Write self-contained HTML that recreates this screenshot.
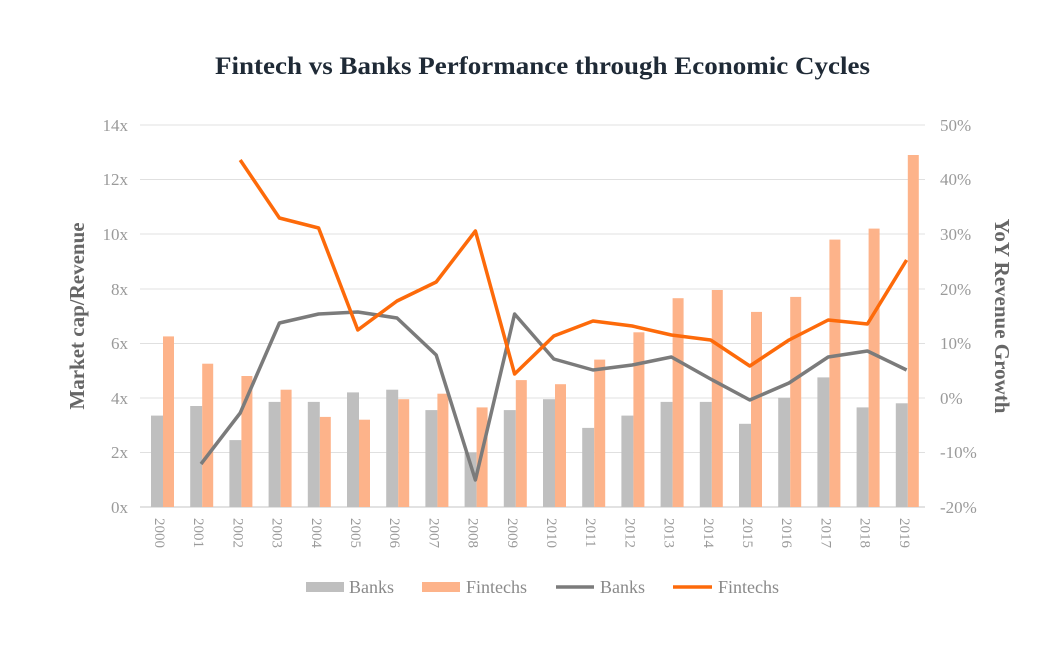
<!DOCTYPE html>
<html><head><meta charset="utf-8"><style>body{margin:0;background:#fff}svg{display:block}</style></head><body>
<svg width="1058" height="666" xmlns="http://www.w3.org/2000/svg" font-family="Liberation Serif, serif">
<rect width="1058" height="666" fill="#fff"/>
<text x="215" y="74" textLength="655" lengthAdjust="spacingAndGlyphs" font-size="25" font-weight="bold" fill="#1f2a36">Fintech vs Banks Performance through Economic Cycles</text>
<g stroke="#e0e0e0" stroke-width="1">
<line x1="140" x2="925" y1="125" y2="125"/><line x1="140" x2="925" y1="179.5" y2="179.5"/><line x1="140" x2="925" y1="234" y2="234"/><line x1="140" x2="925" y1="289" y2="289"/><line x1="140" x2="925" y1="343.5" y2="343.5"/><line x1="140" x2="925" y1="398" y2="398"/><line x1="140" x2="925" y1="452.5" y2="452.5"/>
</g>
<line x1="140" x2="925" y1="507" y2="507" stroke="#d9d9d9" stroke-width="1.5"/>
<g font-size="17" fill="#9a9a9a" text-anchor="end">
<text x="128" y="131">14x</text><text x="128" y="185">12x</text><text x="128" y="240">10x</text><text x="128" y="295">8x</text><text x="128" y="349">6x</text><text x="128" y="404">4x</text><text x="128" y="458">2x</text><text x="128" y="513">0x</text>
</g>
<g font-size="17" fill="#9a9a9a" text-anchor="start">
<text x="940" y="131">50%</text><text x="940" y="185">40%</text><text x="940" y="240">30%</text><text x="940" y="295">20%</text><text x="940" y="349">10%</text><text x="940" y="404">0%</text><text x="940" y="458">-10%</text><text x="940" y="513">-20%</text>
</g>
<text transform="translate(84,316) rotate(-90)" text-anchor="middle" font-size="21" font-weight="bold" fill="#666">Market cap/Revenue</text>
<text transform="translate(995,316) rotate(90)" text-anchor="middle" font-size="21" font-weight="bold" fill="#666">YoY Revenue Growth</text>
<g fill="#bfbfbf">
<rect x="151" y="415.6" width="12" height="91.4"/><rect x="190.2" y="406" width="12" height="101"/><rect x="229.4" y="440.1" width="12" height="66.9"/><rect x="268.6" y="401.9" width="12" height="105.1"/><rect x="307.8" y="401.9" width="12" height="105.1"/><rect x="347" y="392.4" width="12" height="114.6"/><rect x="386.2" y="389.7" width="12" height="117.3"/><rect x="425.4" y="410.1" width="12" height="96.9"/><rect x="464.6" y="452.4" width="12" height="54.6"/><rect x="503.8" y="410.1" width="12" height="96.9"/><rect x="543" y="399.2" width="12" height="107.8"/><rect x="582.2" y="427.9" width="12" height="79.1"/><rect x="621.4" y="415.6" width="12" height="91.4"/><rect x="660.6" y="401.9" width="12" height="105.1"/><rect x="699.8" y="401.9" width="12" height="105.1"/><rect x="739" y="423.8" width="12" height="83.2"/><rect x="778.2" y="397.8" width="12" height="109.2"/><rect x="817.4" y="377.4" width="12" height="129.6"/><rect x="856.6" y="407.4" width="12" height="99.6"/><rect x="895.8" y="403.3" width="12" height="103.7"/>
</g>
<g fill="#fdb38a">
<rect x="163" y="336.4" width="11" height="170.6"/><rect x="202.2" y="363.7" width="11" height="143.3"/><rect x="241.4" y="376" width="11" height="131"/><rect x="280.6" y="389.7" width="11" height="117.3"/><rect x="319.8" y="416.9" width="11" height="90.1"/><rect x="359" y="419.7" width="11" height="87.3"/><rect x="398.2" y="399.2" width="11" height="107.8"/><rect x="437.4" y="393.7" width="11" height="113.3"/><rect x="476.6" y="407.4" width="11" height="99.6"/><rect x="515.8" y="380.1" width="11" height="126.9"/><rect x="555" y="384.2" width="11" height="122.8"/><rect x="594.2" y="359.6" width="11" height="147.4"/><rect x="633.4" y="332.3" width="11" height="174.7"/><rect x="672.6" y="298.2" width="11" height="208.8"/><rect x="711.8" y="290" width="11" height="217"/><rect x="751" y="311.9" width="11" height="195.1"/><rect x="790.2" y="296.9" width="11" height="210.1"/><rect x="829.4" y="239.6" width="11" height="267.4"/><rect x="868.6" y="228.6" width="11" height="278.4"/><rect x="907.8" y="155" width="11" height="352"/>
</g>
<polyline fill="none" stroke="#7b7b7b" stroke-width="3.5" stroke-linejoin="round" points="201,464 240.2,413 279.4,323 318.6,314 357.8,312 397,318 436.2,355 475.4,480 514.6,314 553.8,359 593,370 632.2,365 671.4,357 710.6,379 749.8,400 789,383 828.2,357 867.4,351 906.6,370"/>
<polyline fill="none" stroke="#fd6a0a" stroke-width="3.5" stroke-linejoin="round" points="240.2,160 279.4,218 318.6,228 357.8,330 397,301 436.2,282 475.4,231 514.6,374 553.8,336 593,321 632.2,326 671.4,335 710.6,340 749.8,366 789,340 828.2,320 867.4,324 906.6,260"/>
<g font-size="15" fill="#9a9a9a">
<text transform="translate(155,518) rotate(90)">2000</text><text transform="translate(194.2,518) rotate(90)">2001</text><text transform="translate(233.4,518) rotate(90)">2002</text><text transform="translate(272.6,518) rotate(90)">2003</text><text transform="translate(311.8,518) rotate(90)">2004</text><text transform="translate(351,518) rotate(90)">2005</text><text transform="translate(390.2,518) rotate(90)">2006</text><text transform="translate(429.4,518) rotate(90)">2007</text><text transform="translate(468.6,518) rotate(90)">2008</text><text transform="translate(507.8,518) rotate(90)">2009</text><text transform="translate(547,518) rotate(90)">2010</text><text transform="translate(586.2,518) rotate(90)">2011</text><text transform="translate(625.4,518) rotate(90)">2012</text><text transform="translate(664.6,518) rotate(90)">2013</text><text transform="translate(703.8,518) rotate(90)">2014</text><text transform="translate(743,518) rotate(90)">2015</text><text transform="translate(782.2,518) rotate(90)">2016</text><text transform="translate(821.4,518) rotate(90)">2017</text><text transform="translate(860.6,518) rotate(90)">2018</text><text transform="translate(899.8,518) rotate(90)">2019</text>
</g>
<g font-size="18" fill="#8a8a8a">
<rect x="306" y="582" width="38" height="10" fill="#bfbfbf"/><text x="349" y="593">Banks</text>
<rect x="422" y="582" width="38" height="10" fill="#fdb38a"/><text x="466" y="593">Fintechs</text>
<line x1="556" x2="594" y1="587" y2="587" stroke="#7b7b7b" stroke-width="3.5"/><text x="600" y="593">Banks</text>
<line x1="673" x2="712" y1="587" y2="587" stroke="#fd6a0a" stroke-width="3.5"/><text x="718" y="593">Fintechs</text>
</g>
</svg>
</body></html>
